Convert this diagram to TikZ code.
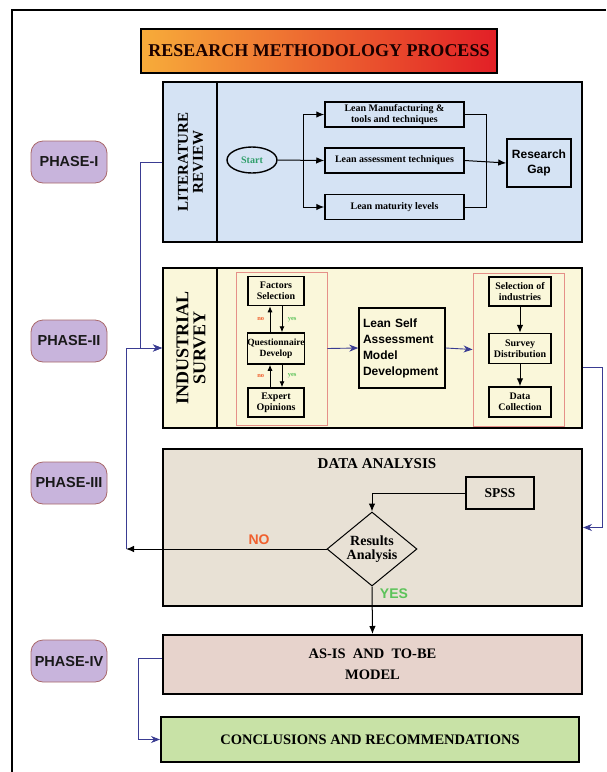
\documentclass[tikz,border=0pt]{standalone}
\usepackage{fontspec}
\setmainfont{Liberation Serif}
\setsansfont{Liberation Sans}
\usepackage{xcolor}
\usetikzlibrary{arrows.meta,positioning,shapes.geometric}

\definecolor{litblue}{HTML}{D5E3F4}
\definecolor{survyellow}{HTML}{FAF7DA}
\definecolor{databeige}{HTML}{E8E1D5}
\definecolor{modelpink}{HTML}{E7D3CC}
\definecolor{conclgreen}{HTML}{C8E2A6}
\definecolor{phaselav}{HTML}{C8B4DC}
\definecolor{phaseedge}{HTML}{A8686A}
\definecolor{subred}{HTML}{E59088}
\definecolor{linkblue}{HTML}{3A3C92}
\definecolor{noorange}{HTML}{F0602E}
\definecolor{yesgreen}{HTML}{5CC35A}
\definecolor{startgreen}{HTML}{2E9E6A}
\definecolor{titleorange}{HTML}{F7AC3A}
\definecolor{titlemid}{HTML}{F08A2A}
\definecolor{titlered}{HTML}{E21F26}

\tikzset{
  phase/.style={draw=phaseedge, fill=phaselav, rounded corners=12pt, line width=0.8pt,
    minimum width=76pt, minimum height=42pt, inner sep=0pt, text=black!90,
    font=\sffamily\bfseries\fontsize{14.5}{16}\selectfont},
  panel/.style={draw, line width=2pt, minimum width=419pt, inner sep=0pt, align=center},
  box/.style={draw, line width=1.5pt, align=center, inner sep=1pt,
    font=\bfseries\fontsize{10}{11}\selectfont},
  subframe/.style={draw=subred, line width=0.9pt, inner sep=0pt},
  sidetitle/.style={rotate=90, align=center},
  arr/.style={-{Latex[length=8pt,width=6.5pt]}, line width=1pt},
  smallarr/.style={-{Latex[length=6pt,width=5pt]}, line width=0.9pt},
  bluearr/.style={-{Stealth[length=9pt,width=7pt]}, draw=linkblue, line width=0.9pt},
  tag/.style={font=\bfseries\fontsize{6.5}{7}\selectfont}
}

\begin{document}
\begin{tikzpicture}[x=1pt, y=-1pt]
\useasboundingbox (0,0) rectangle (606,772);

% Frame and title
\draw[line width=1.6pt] (606,10) -- (12,10) -- (12,772);
\node[draw, line width=1.2pt, left color=titleorange, middle color=titlemid, right color=titlered,
  minimum width=356pt, minimum height=44pt, inner sep=0pt, text=black!90!red,
  font=\bfseries\fontsize{18}{20}\selectfont] (title) at (319,51) {RESEARCH METHODOLOGY PROCESS};

% Phase labels
\node[phase] (ph1) at (69,162) {PHASE-I};
\node[phase] (ph2) at (69,341) {PHASE-II};
\node[phase] (ph3) at (69,483) {PHASE-III};
\node[phase] (ph4) at (69,661) {PHASE-IV};

% Phase I -- literature review
\node[panel, fill=litblue, minimum height=160pt] (p1) at (372.5,162) {};
\draw[line width=1.5pt] ([xshift=55pt]p1.north west) -- ([xshift=55pt]p1.south west);
\node[sidetitle, font=\bfseries\fontsize{15}{15}\selectfont] (lrtitle) at (190.5,162) {LITERATURE\\REVIEW};
\node[draw, ellipse, line width=1.4pt, minimum width=50pt, minimum height=26pt, inner sep=0pt,
  text=startgreen, font=\bfseries\fontsize{10}{12}\selectfont] (start) at (252,160) {Start};
\node[box, minimum width=139pt, minimum height=25pt] (lmt) at (394.5,114.5) {Lean Manufacturing \&\\tools and techniques};
\node[box, minimum width=139pt, minimum height=25pt] (lat) at (394.5,160.5) {Lean assessment techniques};
\node[box, minimum width=139pt, minimum height=25pt] (lml) at (394.5,207) {Lean maturity levels};
\node[box, minimum width=64pt, minimum height=48pt,
  font=\sffamily\bfseries\fontsize{12}{15}\selectfont] (gap) at (539,163) {Research\\Gap};
\coordinate (split) at (303,160);
\draw[arr] (start.east) -- (lat.west);
\draw[arr] (split) |- (lmt.west);
\draw[arr] (split) |- (lml.west);
\draw[line width=0.9pt] (lmt.east) -- ++(22pt,0) |- (lml.east);
\draw[arr] (lat.east) -- (gap.west);

% Phase II -- industrial survey
\node[panel, fill=survyellow, minimum height=160pt] (p2) at (372.5,348) {};
\draw[line width=1.5pt] ([xshift=55pt]p2.north west) -- ([xshift=55pt]p2.south west);
\node[sidetitle, font=\bfseries\fontsize{18}{17}\selectfont] (istitle) at (191,348) {INDUSTRIAL\\SURVEY};
\node[subframe, minimum width=91pt, minimum height=153pt] (grp1) at (281.5,348.5) {};
\node[box, font=\bfseries\fontsize{10}{11}\selectfont, minimum width=56pt, minimum height=29pt] (fs) at (276,291) {Factors\\Selection};
\node[box, font=\bfseries\fontsize{9.5}{11}\selectfont, minimum width=56pt, minimum height=31pt, inner xsep=0pt] (qd) at (276,348.5) {Questionnaire\\Develop};
\node[box, font=\bfseries\fontsize{10}{11}\selectfont, minimum width=56pt, minimum height=29pt] (eo) at (276,402.5) {Expert\\Opinions};
\draw[smallarr] ([xshift=-6pt]qd.north) -- ([xshift=-6pt]fs.south) node[midway, left=2pt, tag, text=noorange] {no};
\draw[smallarr] ([xshift=6pt]fs.south) -- ([xshift=6pt]qd.north) node[midway, right=2pt, tag, text=yesgreen] {yes};
\draw[smallarr] ([xshift=-6pt]eo.north) -- ([xshift=-6pt]qd.south) node[midway, left=2pt, tag, text=noorange] {no};
\draw[smallarr] ([xshift=6pt]qd.south) -- ([xshift=6pt]eo.north) node[midway, right=2pt, tag, text=yesgreen] {yes};
\node[box, align=left, text width=78pt, inner xsep=4pt, minimum height=80pt,
  font=\sffamily\bfseries\fontsize{12}{16}\selectfont] (lsa) at (402,348) {Lean Self\\Assessment\\Model\\Development};
\node[subframe, minimum width=91pt, minimum height=153pt] (grp2) at (518.5,349.5) {};
\node[box, minimum width=62pt, minimum height=29pt] (sel) at (520,291.5) {Selection of\\industries};
\node[box, minimum width=62pt, minimum height=30pt] (sdist) at (520,348.5) {Survey\\Distribution};
\node[box, minimum width=62pt, minimum height=30pt] (dcol) at (520,402) {Data\\Collection};
\draw[bluearr] (grp1.east) -- (lsa.west);
\draw[bluearr] (lsa.east) -- (grp2.west);
\draw[arr] (sel.south) -- (sdist.north);
\draw[arr] (sdist.south) -- (dcol.north);

% Phase III -- data analysis
\node[panel, fill=databeige, minimum height=157pt] (p3) at (372.5,527.5) {};
\node[font=\bfseries\fontsize{15}{18}\selectfont] (datitle) at (377,464) {DATA ANALYSIS};
\node[box, minimum width=68pt, minimum height=32pt, font=\bfseries\fontsize{13.5}{16}\selectfont] (spss) at (500,493) {SPSS};
\node[draw, diamond, aspect=1.2, line width=1pt, minimum width=90pt, minimum height=74pt, inner sep=0pt,
  align=center, font=\bfseries\fontsize{14}{14}\selectfont] (res) at (372,549) {Results\\Analysis};
\node[font=\sffamily\bfseries\fontsize{14}{16}\selectfont, text=noorange] (nolbl) at (259,540) {NO};
\node[font=\sffamily\bfseries\fontsize{14}{16}\selectfont, text=yesgreen] (yeslbl) at (394,594) {YES};
\coordinate (noturn) at (126,549);
\draw[arr] (spss.west) -| (res.north);
\draw[arr] (res.west) -- (noturn);
\draw[bluearr] (noturn) |- (p2.west);
\draw[bluearr] (p1.west) -- ++(-22pt,0) |- (p2.west);
\draw[bluearr] ([yshift=-19pt]p2.east) -- ++(19pt,0) |- (p3.east);

% Phase IV -- models and conclusions
\node[panel, fill=modelpink, minimum height=59pt,
  font=\bfseries\fontsize{14.5}{21}\selectfont] (asis) at (372.5,664.5) {AS-IS\ \ AND\ \ TO-BE\\MODEL};
\node[panel, fill=conclgreen, minimum width=418pt, minimum height=45pt,
  font=\bfseries\fontsize{14.5}{16}\selectfont] (concl) at (370,739.5) {CONCLUSIONS AND RECOMMENDATIONS};
\draw[arr] (res.south) -- (asis.north);
\draw[bluearr] ([yshift=6pt]asis.west) -- ++(-24pt,0) |- (concl.west);
\end{tikzpicture}
\end{document}
